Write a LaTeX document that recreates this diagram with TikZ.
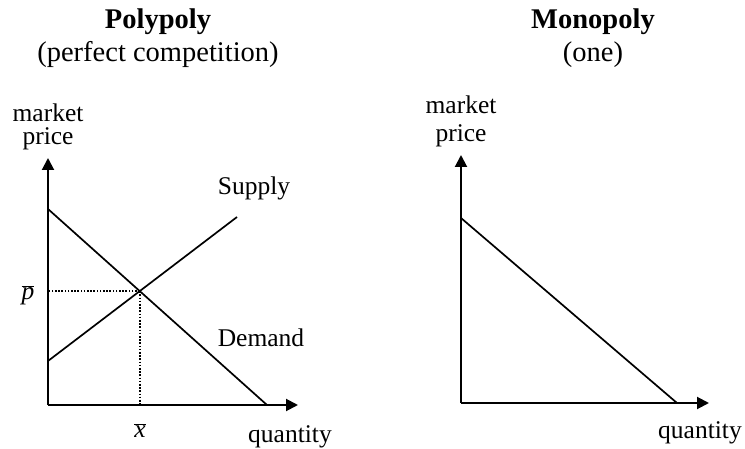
\documentclass[tikz,border=0pt]{standalone}
\usepackage{fontspec}
\setmainfont{Liberation Serif}
\usetikzlibrary{arrows.meta}

\begin{document}
\begin{tikzpicture}[x=1pt,y=-1pt]
  % Two market forms side by side, pixel-like coordinates measured from the top left.
  \useasboundingbox (0,0) rectangle (745,449);
  \tikzset{axis/.style={line width=2pt,-{Triangle[length=12pt,width=12pt]}},
           curve/.style={line width=1.7pt},
           guide/.style={line width=1.6pt,dash pattern=on 1.6pt off 1.6pt},
           heading/.style={align=center,inner sep=0pt,anchor=base,font=\fontsize{28.5}{33}\selectfont},
           label/.style={inner sep=0pt,anchor=base,font=\fontsize{25.5}{23}\selectfont}}

  % left: polypoly
  \node[heading] (polytitle) at (158,62) {\textbf{Polypoly}\\(perfect competition)};
  \node[label,align=center] (polyprice) at (48,145) {market\\price};
  \coordinate (polyO) at (48,405);
  \coordinate (polyY) at (48,158);
  \coordinate (polyX) at (298,405);
  \draw[axis] (polyO) -- (polyY);
  \draw[axis] (polyO) -- (polyX);
  \coordinate (demA) at (48,209);
  \coordinate (demB) at (267,405);
  \coordinate (supA) at (48,361);
  \coordinate (supB) at (237,217);
  \draw[curve] (demA) -- (demB);
  \draw[curve] (supA) -- (supB);
  \coordinate (eq) at (intersection of demA--demB and supA--supB);
  \draw[guide] (eq) -- (eq -| polyO);
  \draw[guide] (eq) -- (eq |- polyO);
  \node[label] (supply) at (254,195) {Supply};
  \node[label] (demand) at (261,346) {Demand};
  \node[label] (pbar) at (28,300) {$\overline{\textit{p}}$};
  \node[label] (xbar) at (140,437) {$\overline{\textit{x}}$};
  \node[label] (polyqty) at (290,442) {quantity};

  % right: monopoly
  \node[heading] (monotitle) at (593,62) {\textbf{Monopoly}\\(one)};
  \node[label,align=center,font=\fontsize{25.5}{28}\selectfont] (monoprice) at (461,142) {market\\price};
  \coordinate (monoO) at (461,403);
  \coordinate (monoY) at (461,155);
  \coordinate (monoX) at (709,403);
  \draw[axis] (monoO) -- (monoY);
  \draw[axis] (monoO) -- (monoX);
  \coordinate (monoA) at (461,218);
  \coordinate (monoB) at (677,403);
  \draw[curve] (monoA) -- (monoB);
  \node[label] (monoqty) at (700,438) {quantity};
\end{tikzpicture}
\end{document}
